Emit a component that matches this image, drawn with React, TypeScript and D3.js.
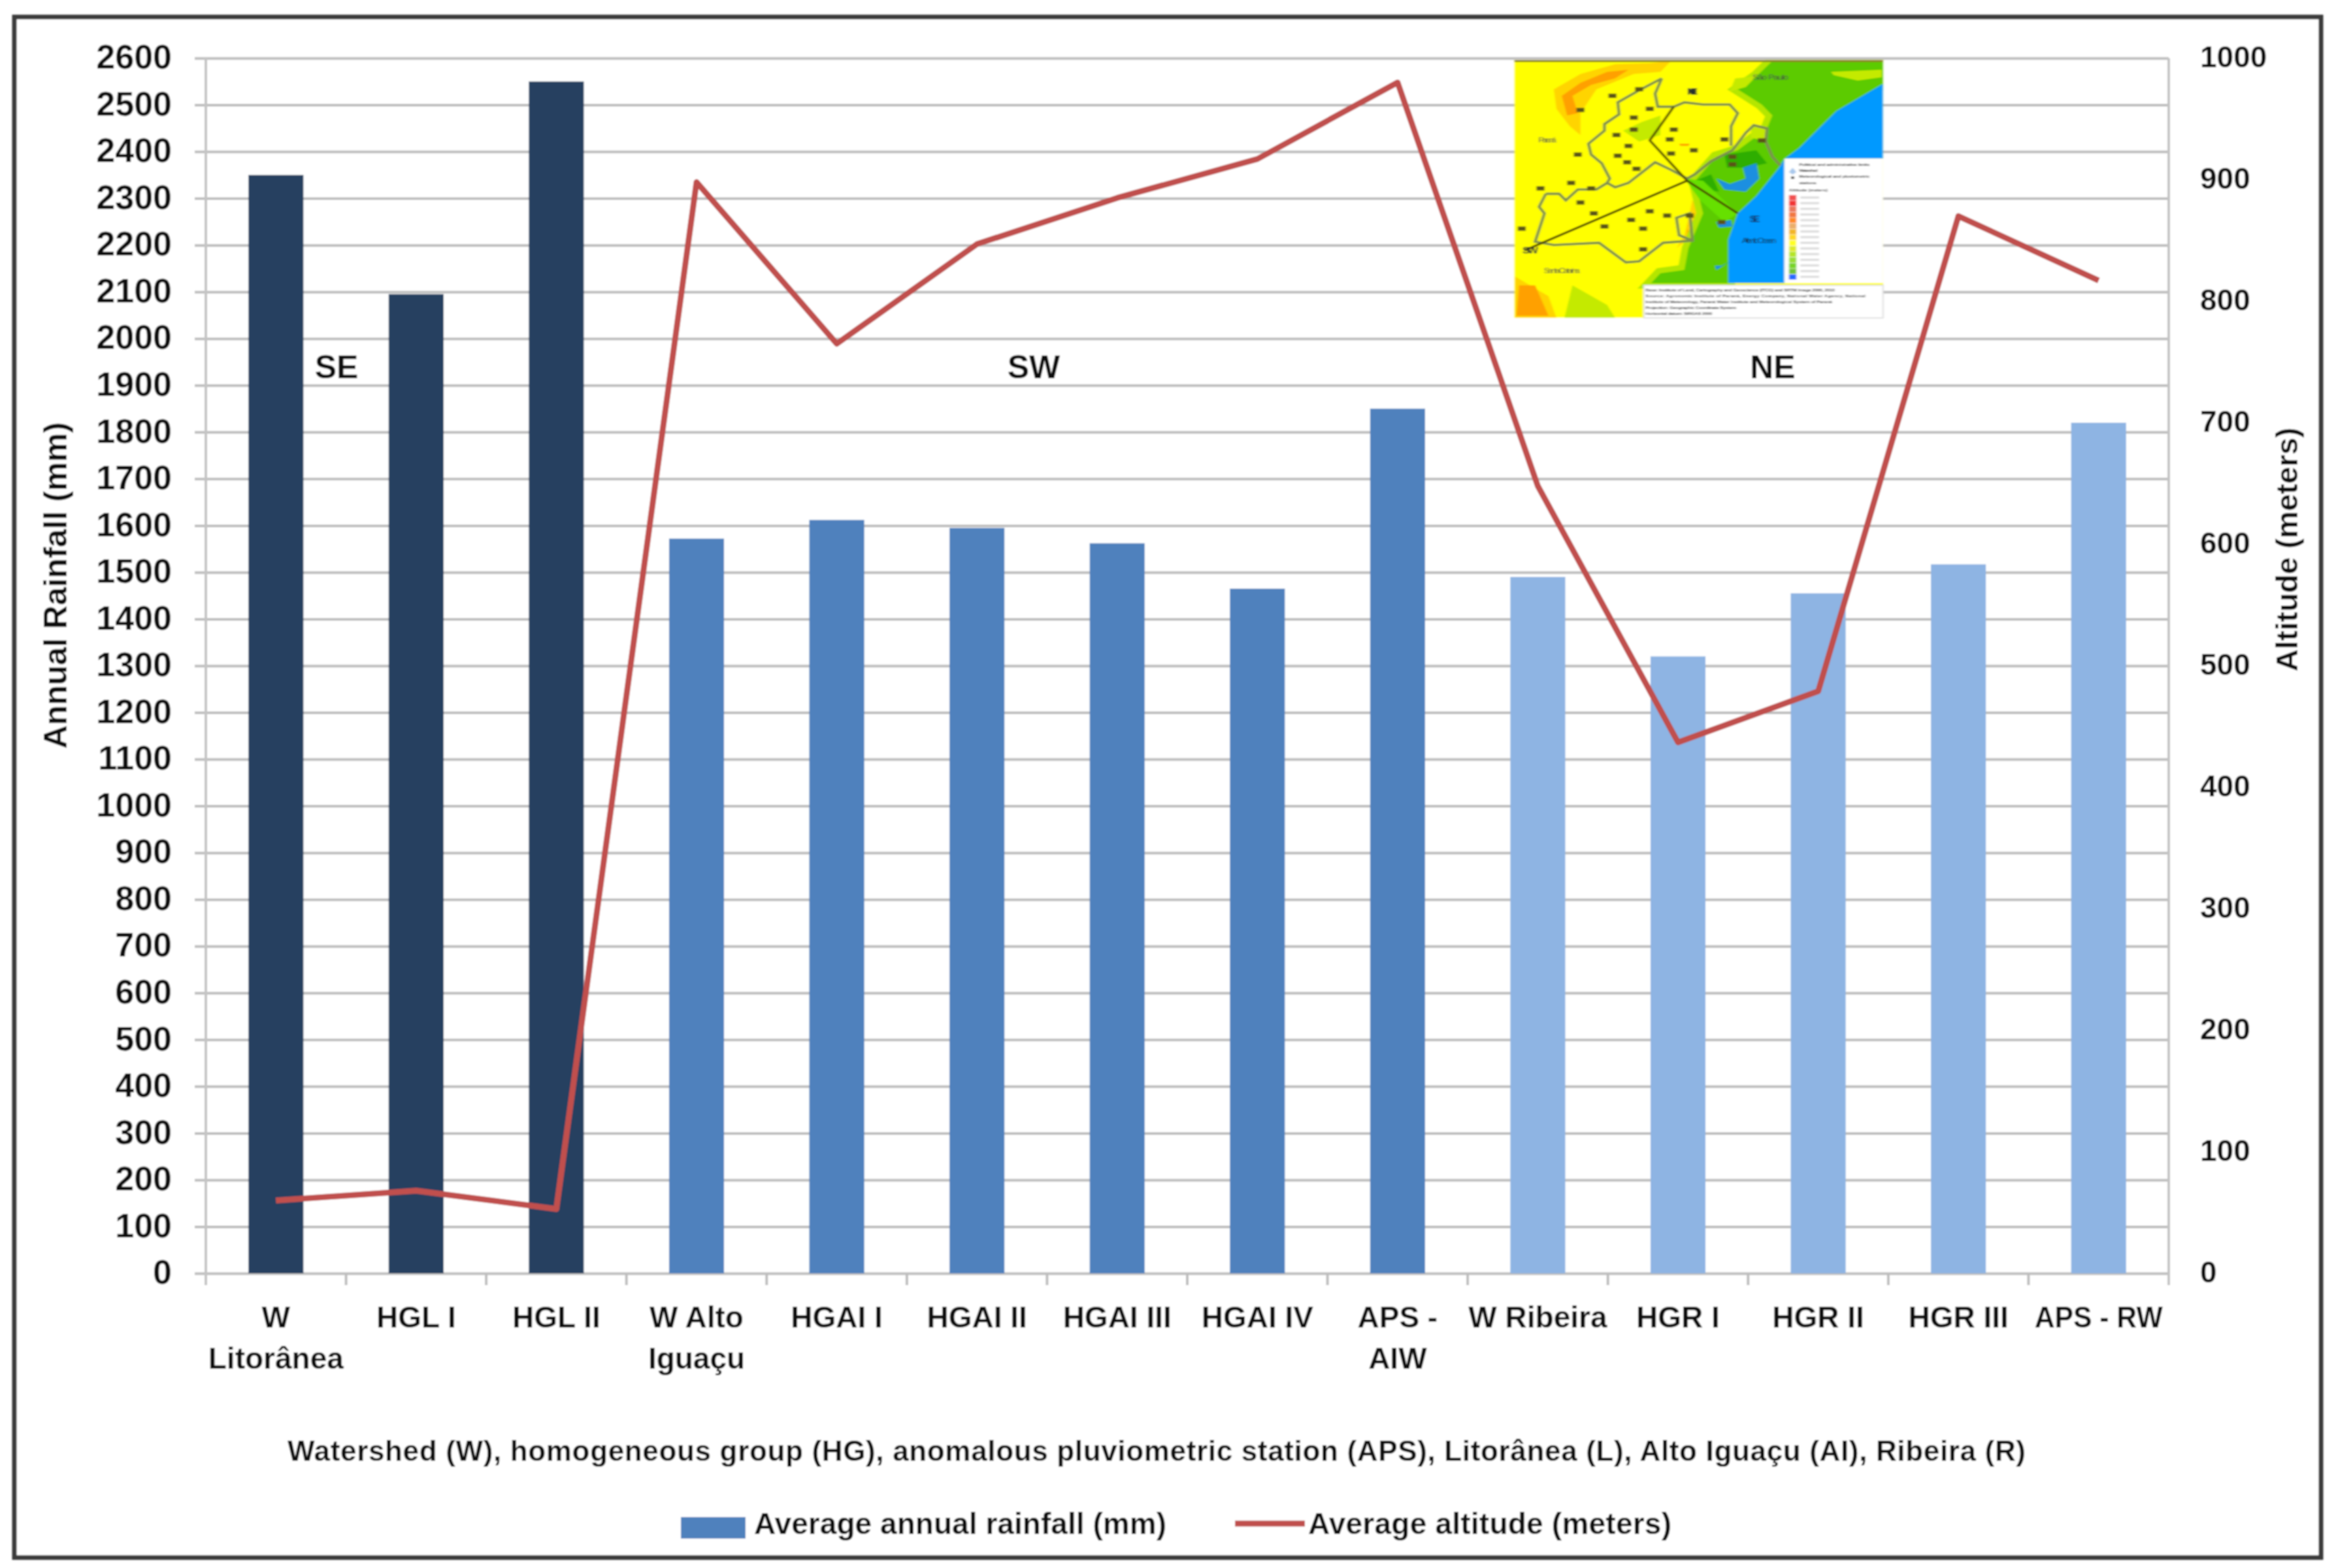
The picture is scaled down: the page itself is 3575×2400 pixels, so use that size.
import React, { useEffect, useRef } from "react";
import * as d3 from "d3";

const categories = [
  "W Litorânea", "HGL I", "HGL II", "W Alto Iguaçu", "HGAI I", "HGAI II", "HGAI III",
  "HGAI IV", "APS - AIW", "W Ribeira", "HGR I", "HGR II", "HGR III", "APS - RW",
];
const rainfall = [2350, 2095, 2550, 1572, 1612, 1595, 1562, 1465, 1850, 1490, 1320, 1455, 1517, 1820];
const altitude = [60, 68, 53, 898, 765, 847, 885, 917, 980, 648, 437, 479, 870, 817];
const regions = ["SE", "SE", "SE", "SW", "SW", "SW", "SW", "SW", "SW", "NE", "NE", "NE", "NE", "NE"];
const regionColors: Record<string, string> = { SE: "#254061", SW: "#4f81bd", NE: "#8eb4e3" };
const regionLabels = [
  { name: "SE", x: 515 },
  { name: "SW", x: 1582 },
  { name: "NE", x: 2713 },
];
const rainTicks = d3.range(0, 2601, 100);
const altTicks = d3.range(0, 1001, 100);
const caption = "Watershed (W), homogeneous group (HG), anomalous pluviometric station (APS), Litorânea (L), Alto Iguaçu (AI), Ribeira (R)";

const FONT = "'Liberation Sans', Arial, sans-serif";
const left = 315, right = 3319, top = 89, bottom = 1949;

// the little map in the corner, coordinates are in its own drawing space
const mapOcean = "M1475,205 L1300,330 L1160,500 L1105,550 L1085,590 L1000,720 L930,800 L895,920 L895,1120 L1105,1120 L1105,548 L1475,548 Z";
const mapGreen = "M1060,100 L1475,100 L1475,205 L1300,330 L1160,500 L1105,550 L1085,590 L1000,720 L930,800 L895,920 L895,1120 L605,1120 L640,1075 L730,1060 L745,960 L800,800 L770,650 L850,540 L930,510 L1040,410 L1060,350 L1020,300 L930,230 L1000,170 Z";
const mapBays = [
  "M850,640 L900,665 L960,640 L950,590 L1000,570 L1010,640 L960,700 L880,690 Z",
  "M850,840 L905,830 L910,860 L860,865 Z",
  "M830,980 L850,1060 L900,1020 L870,1040 L845,1040 Z",
];
const mapOrange = [
  "M270,260 L340,200 L440,150 L520,140 L470,180 L380,210 L310,260 L330,340 L290,350 Z",
  "M110,1130 L170,1130 L220,1270 L100,1270 Z",
  "M740,870 L770,930 L775,960 L745,950 Z",
  "M710,480 L750,480 L745,490 L715,490 Z",
];
const mapAmber = [
  "M240,230 L340,160 L470,115 L600,110 L680,100 L640,150 L540,160 L400,230 L340,340 L340,440 L300,400 L250,320 Z",
  "M95,1090 L220,1180 L250,1280 L95,1280 Z",
  "M700,960 L760,900 L800,740 L760,740 L730,900 Z",
];
const mapLime = [
  "M1280,150 L1470,140 L1470,175 L1380,190 L1290,165 Z",
  "M280,1280 L310,1130 L440,1220 L470,1280 Z",
  "M500,420 L570,380 L640,350 L640,440 L560,470 Z",
  "M920,180 L1000,170 L960,220 L900,240 Z",
  "M980,400 L1040,410 L1030,470 L980,450 Z",
];
const mapDeep = ["M880,530 L1000,510 L1040,570 L960,590 L890,590 Z", "M770,650 L830,620 L860,700 L790,690 Z"];
const mapLimit = "M645,180 L560,235 L480,290 L485,345 L430,390 L430,420 L370,480 L380,530 L420,570 L450,640 L440,660 L470,680 L520,660 L620,565 L680,600 L740,640 L770,620 L830,560 L910,510 L960,430 L990,395 L1040,410 L1035,470 L1060,540 L1090,580 M645,180 L620,250 L630,310 L690,310 L730,290 L800,300 L900,300 L930,340 L905,400 L905,490 M210,710 L260,710 L285,740 L330,690 L400,690 L440,660 M210,710 L185,770 L205,800 L170,930 L240,945 L410,935 L510,1025 L560,1020 L650,935 L760,925 L750,800 L700,820 L710,900 L760,925";
const mapDivide = "M130,970 L740,650 L930,800 M740,650 L600,465 L690,310";
const mapDots = [[460, 260], [340, 325], [540, 360], [540, 415], [475, 440], [520, 490], [330, 530], [480, 535], [515, 565], [550, 595], [305, 660], [190, 685], [380, 685], [340, 750], [390, 800], [530, 830], [600, 790], [665, 810], [750, 810], [575, 870], [430, 860], [575, 965], [120, 870], [675, 460], [690, 415], [765, 510], [680, 525], [880, 460], [560, 230], [600, 320], [760, 240], [910, 540], [910, 575], [1020, 465], [870, 840]];
const mapLegendColors = ["#ee3030", "#ee1010", "#e86040", "#ee6020", "#ff7700", "#e8a050", "#f0a800", "#ffd000", "#ffff00", "#d8e800", "#a8e000", "#88d810", "#60cc00", "#58b810", "#0050ff"];
const mapLegendText = ["Political and administrative limits", "Watershed", "Meteorological and pluviometric", "stations"];
const mapNotes = [
  "Base: Institute of Land, Cartography and Geoscience (ITCG) and SRTM Image 2000, 2010",
  "Source: Agronomic Institute of Paraná, Energy Company, National Water Agency, National",
  "Institute of Meteorology, Paraná Water Institute and Meteorological System of Paraná",
  "Projection: Geographic Coordinate System",
  "Horizontal datum: SIRGAS 2000",
];

function InsetMap() {
  return (
    <g transform="translate(2280,60) scale(0.408,0.3333)" filter="url(#softer)">
      <clipPath id="mapClip">
        <rect x={92} y={95} width={1383} height={1185} />
      </clipPath>
      <g clipPath="url(#mapClip)">
        <rect x={92} y={95} width={1383} height={1185} fill="#ffff00" />
        {mapAmber.map((d, i) => (
          <path key={i} d={d} fill="#ffd400" />
        ))}
        {mapOrange.map((d, i) => (
          <path key={i} d={d} fill="#ffa000" />
        ))}
        <path d={mapGreen} fill="#b4e600" stroke="#b4e600" strokeWidth={50} />
        <path d={mapGreen} fill="#5ccb00" />
        {mapLime.map((d, i) => (
          <path key={i} d={d} fill="#c4ea00" />
        ))}
        {mapDeep.map((d, i) => (
          <path key={i} d={d} fill="#2fae00" />
        ))}
        <path d={mapOcean} fill="#0099ff" />
        {mapBays.map((d, i) => (
          <path key={i} d={d} fill="#1a8fe0" />
        ))}
        <path d="M730,640 L790,740 L880,840 L930,800 L800,650 Z" fill="#66e000" />
        <rect x={92} y={95} width={1383} height={10} fill="#8a8420" />
      </g>
      <path d={mapLimit} fill="none" stroke="#7d8f50" strokeWidth={11} />
      <path d={mapDivide} fill="none" stroke="#4a4200" strokeWidth={9} />
      {mapDots.map(([x, y], i) => (
        <rect key={i} x={x - 15} y={y - 10} width={30} height={20} fill="#5a5418" />
      ))}
      <g fontFamily={FONT} fontSize={34} fill="#444">
        <text x={182} y={473} textLength={68}>Paraná</text>
        <text x={202} y={1075} textLength={136}>Santa Catarina</text>
        <text x={985} y={185} textLength={135}>São Paulo</text>
        <text x={945} y={935} textLength={130} fill="#123">Atlantic Ocean</text>
      </g>
      <g fontFamily={FONT} fontSize={42} fontWeight={700} fill="#1a2a30">
        <text x={740} y={255} textLength={40}>NE</text>
        <text x={973} y={840} textLength={40} fill="#0a3a70">SE</text>
        <text x={122} y={985} textLength={60}>SW</text>
      </g>
      <rect x={1105} y={548} width={370} height={572} fill="#fff" />
      <rect x={578} y={1130} width={897} height={150} fill="#fff" stroke="#ddd" strokeWidth={5} />
      <g fontFamily={FONT} fontSize={18} fontWeight={700} fill="#333">
        {mapLegendText.map((t, i) => (
          <text key={i} x={1160} y={[583, 608, 636, 666][i]} textLength={[265, 70, 265, 65][i]}>{t}</text>
        ))}
        <text x={1122} y={698} textLength={145}>Altitude (meters)</text>
      </g>
      <path d="M1136,590 L1150,610 L1136,622 L1122,610 Z" fill="#a8c8ec" />
      <rect x={1130} y={630} width={12} height={12} fill="#444" />
      {mapLegendColors.map((c, i) => (
        <g key={c}>
          <rect x={1122} y={716 + i * 26} width={28} height={24} fill={c} opacity={0.85} />
          <rect x={1165} y={722 + i * 26} width={70} height={10} fill="#ddd" />
        </g>
      ))}
      <g fontFamily={FONT} fontSize={18} fontWeight={700} fill="#333">
        {mapNotes.map((t, i) => (
          <text key={i} x={584} y={1157 + i * 27} textLength={[710, 825, 700, 340, 250][i]}>{t}</text>
        ))}
      </g>
    </g>
  );
}

export default function App() {
  const ref = useRef<SVGGElement>(null);

  const x = d3.scaleBand<string>().domain(categories).range([left, right]).paddingInner(0.608).paddingOuter(0.304);
  const yRain = d3.scaleLinear().domain([0, 2600]).range([bottom, top]);
  const yAlt = d3.scaleLinear().domain([0, 1000]).range([bottom, top]);
  const cx = (i: number) => (x(categories[i]) as number) + x.bandwidth() / 2;

  useEffect(() => {
    const g = d3.select(ref.current);
    g.selectAll("*").remove();

    const gridAxis = d3.axisLeft(yRain).tickValues(rainTicks).tickSize(right - left + 17).tickFormat(() => "");
    const grid = g.append("g").attr("transform", `translate(${right},0)`).call(gridAxis);
    grid.select(".domain").remove();
    grid.selectAll("line").attr("stroke", "#bdbdbd").attr("stroke-width", 4);

    const rainAxis = d3.axisLeft(yRain).tickValues(rainTicks).tickSize(0).tickPadding(0).tickFormat(d3.format("d"));
    const rainG = g.append("g").attr("transform", "translate(263,-3)").call(rainAxis);
    rainG.select(".domain").remove();
    rainG.selectAll("text").attr("font-family", FONT).attr("font-size", 52).attr("font-weight", 700).attr("fill", "#111").attr("dy", "0.36em");

    const altAxis = d3.axisRight(yAlt).tickValues(altTicks).tickSize(0).tickPadding(0).tickFormat(d3.format("d"));
    const altG = g.append("g").attr("transform", "translate(3367,-3)").call(altAxis);
    altG.select(".domain").remove();
    altG.selectAll("text").attr("font-family", FONT).attr("font-size", 46).attr("font-weight", 700).attr("fill", "#111").attr("dy", "0.36em");

    // vertical axis lines and the ticks under the categories
    [left, right].forEach((px) => {
      g.append("line").attr("x1", px).attr("x2", px).attr("y1", top).attr("y2", bottom + 18).attr("stroke", "#c4c4c4").attr("stroke-width", 4);
    });
    d3.range(1, categories.length).forEach((i) => {
      const px = left + i * x.step();
      g.append("line").attr("x1", px).attr("x2", px).attr("y1", bottom).attr("y2", bottom + 18).attr("stroke", "#bdbdbd").attr("stroke-width", 4);
    });

    g.selectAll("rect.bar")
      .data(rainfall)
      .enter()
      .append("rect")
      .attr("class", "bar")
      .attr("x", (_, i) => x(categories[i]) as number)
      .attr("y", (d) => yRain(d))
      .attr("width", x.bandwidth())
      .attr("height", (d) => bottom - yRain(d))
      .attr("fill", (_, i) => regionColors[regions[i]]);

    const line = d3
      .line<number>()
      .x((_, i) => cx(i))
      .y((d) => yAlt(d));
    g.append("path").attr("d", line(altitude)).attr("fill", "none").attr("stroke", "#c0504d").attr("stroke-width", 9).attr("stroke-linejoin", "round");
  }, []);

  const catLabel = (name: string, i: number) => {
    // same line breaks as the original axis
    const lines = name === "W Litorânea" ? ["W", "Litorânea"] : name === "W Alto Iguaçu" ? ["W Alto", "Iguaçu"] : name === "APS - AIW" ? ["APS -", "AIW"] : [name];
    return (
      <text key={name} textAnchor="middle" fontSize={46} fontWeight={700} fill="#111" fontFamily={FONT} textLength={name === "APS - RW" ? 196 : undefined} lengthAdjust="spacingAndGlyphs">
        {lines.map((l, j) => (
          <tspan key={l} x={cx(i)} y={2032 + j * 63}>{l}</tspan>
        ))}
      </text>
    );
  };

  return (
    <svg width={3575} height={2400} style={{ position: "absolute", left: 0, top: 0, background: "#fff" }}>
      <defs>
        <filter id="soft" x="0" y="0" width="3575" height="2400" filterUnits="userSpaceOnUse">
          <feGaussianBlur stdDeviation={1.2} />
        </filter>
        <filter id="softer" x="-5%" y="-5%" width="110%" height="110%">
          <feGaussianBlur stdDeviation={2} />
        </filter>
      </defs>
      <g filter="url(#soft)">
        <rect x={22} y={26} width={3530} height={2358} fill="#fff" stroke="#3a3a3a" strokeWidth={7} />
        <g ref={ref} />
        <InsetMap />
        {regionLabels.map((r) => (
          <text key={r.name} x={r.x} y={579} textAnchor="middle" fontFamily={FONT} fontSize={50} fill="#111" fontWeight={700}>{r.name}</text>
        ))}
        {categories.map(catLabel)}
        <text transform="translate(102,896) rotate(-90)" textAnchor="middle" fontFamily={FONT} fontSize={50} fontWeight={700} fill="#111">Annual Rainfall (mm)</text>
        <text transform="translate(3516,841) rotate(-90)" textAnchor="middle" fontFamily={FONT} fontSize={47} fontWeight={700} fill="#111">Altitude (meters)</text>
        <text x={1770} y={2236} textAnchor="middle" fontFamily={FONT} fontSize={44} fontWeight={700} fill="#111" textLength={2660}>{caption}</text>
        <rect x={1042} y={2322} width={99} height={33} fill={regionColors.SW} />
        <text x={1154} y={2348} fontFamily={FONT} fontSize={46} fontWeight={700} fill="#111" textLength={631}>Average annual rainfall (mm)</text>
        <line x1={1890} x2={1997} y1={2332} y2={2332} stroke="#c0504d" strokeWidth={9} />
        <text x={2002} y={2348} fontFamily={FONT} fontSize={46} fontWeight={700} fill="#111" textLength={556}>Average altitude (meters)</text>
      </g>
    </svg>
  );
}
